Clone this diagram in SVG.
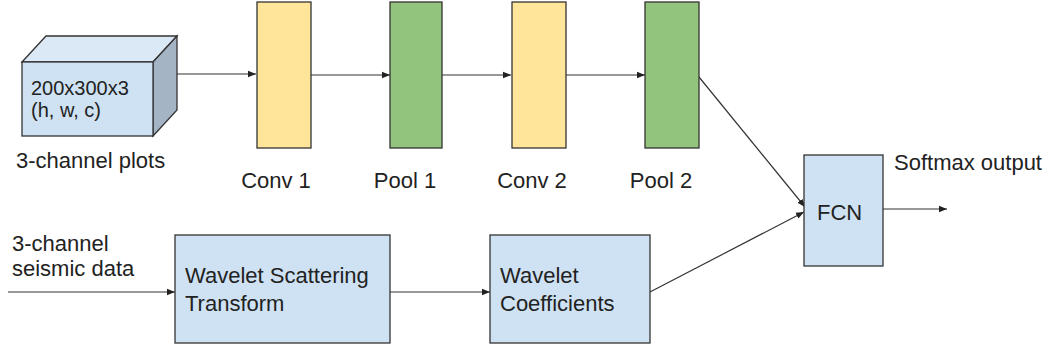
<svg xmlns="http://www.w3.org/2000/svg" width="1053" height="353" viewBox="0 0 1053 353">
<defs>
<marker id="ah" viewBox="0 0 10 10" refX="10" refY="5" markerWidth="8" markerHeight="8" markerUnits="userSpaceOnUse" orient="auto">
<path d="M0,1 L10,5 L0,9 z" fill="#222"/>
</marker>
</defs>
<style>
.t{font-family:"Liberation Sans",Arial,sans-serif;font-size:22px;fill:#222}
.s{font-size:20px}
.blue{fill:#cfe2f3;stroke:#333;stroke-width:1.3}
.yel{fill:#ffe599;stroke:#333;stroke-width:1.3}
.grn{fill:#93c47d;stroke:#333;stroke-width:1.3}
.c{fill:none;stroke:#333;stroke-width:1.2;marker-end:url(#ah)}
</style>
<rect width="1053" height="353" fill="#fff"/>
<g id="connectors">
<line class="c" x1="177" y1="74" x2="256" y2="74"/>
<line class="c" x1="311" y1="75" x2="390" y2="75"/>
<line class="c" x1="442" y1="75" x2="511" y2="75"/>
<line class="c" x1="566" y1="75" x2="645" y2="75"/>
<line class="c" x1="699" y1="77" x2="805" y2="207"/>
<line class="c" x1="650" y1="292" x2="804" y2="212"/>
<line class="c" x1="883" y1="209" x2="947" y2="209"/>
<line class="c" x1="8" y1="292" x2="175" y2="292"/>
<line class="c" x1="390" y1="292" x2="490" y2="292"/>
</g>
<g id="input_plots">
<polygon points="22,62 46,36 177,36 153,62" fill="#dbe8f5" stroke="#333" stroke-width="1.3"/>
<polygon points="153,62 177,36 177,110 153,136" fill="#a4b4c4" stroke="#333" stroke-width="1.3"/>
<rect class="blue" x="22" y="62" width="131" height="74"/>
<text class="t s" x="31" y="95">200x300x3</text>
<text class="t s" x="31" y="117">(h, w, c)</text>
<text class="t" x="16" y="168">3-channel plots</text>
</g>
<g id="conv1">
<rect class="yel" x="257" y="2" width="54" height="146"/>
<text class="t" x="276" y="188" text-anchor="middle">Conv 1</text>
</g>
<g id="pool1">
<rect class="grn" x="390" y="2" width="52" height="146"/>
<text class="t" x="405" y="188" text-anchor="middle">Pool 1</text>
</g>
<g id="conv2">
<rect class="yel" x="512" y="2" width="54" height="146"/>
<text class="t" x="532" y="188" text-anchor="middle">Conv 2</text>
</g>
<g id="pool2">
<rect class="grn" x="645" y="2" width="54" height="146"/>
<text class="t" x="661" y="188" text-anchor="middle">Pool 2</text>
</g>
<g id="fcn">
<rect class="blue" x="804" y="155" width="79" height="111"/>
<text class="t" x="817" y="220">FCN</text>
<text class="t" x="894" y="170">Softmax output</text>
</g>
<g id="seismic_input">
<text class="t" x="12" y="251">3-channel</text>
<text class="t" x="12" y="276">seismic data</text>
</g>
<g id="wst">
<rect class="blue" x="175" y="235" width="215" height="108"/>
<text class="t" x="185" y="283">Wavelet Scattering</text>
<text class="t" x="185" y="311">Transform</text>
</g>
<g id="coeffs">
<rect class="blue" x="490" y="235" width="160" height="108"/>
<text class="t" x="500" y="283">Wavelet</text>
<text class="t" x="500" y="311">Coefficients</text>
</g>
</svg>
